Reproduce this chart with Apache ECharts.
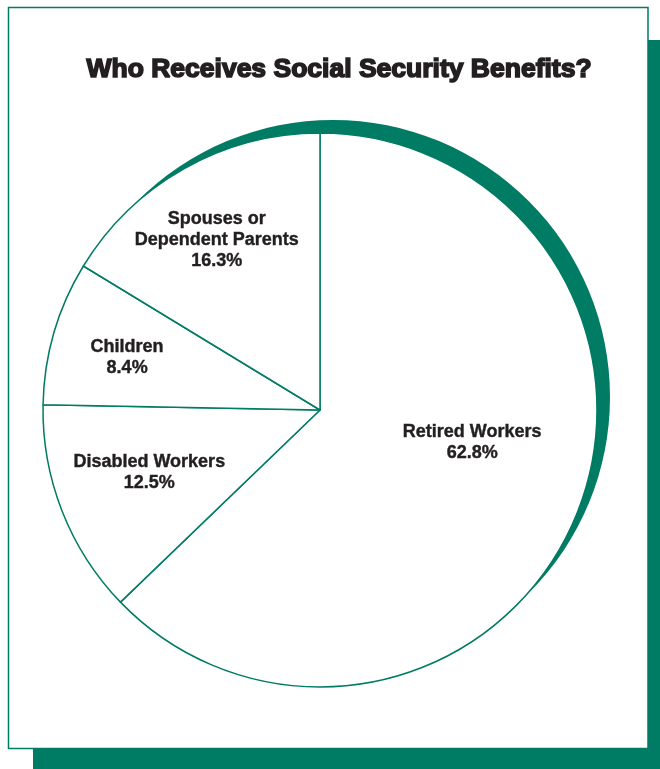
<!DOCTYPE html>
<html>
<head>
<meta charset="utf-8">
<script src="https://cdn.jsdelivr.net/npm/echarts@6/dist/echarts.min.js"></script>
<style>
  html, body { margin: 0; padding: 0; background: #fff; }
  #main { width: 660px; height: 769px; }
</style>
</head>
<body>
<div id="main"></div>
<script>
const categories = ['Retired Workers', 'Disabled Workers', 'Children', 'Spouses or\nDependent Parents'];
const shares = [62.8, 12.5, 8.4, 16.3];

const GREEN = '#007b64';
const INK = '#231f20';
// nudges from the default inside label spot
const labelNudge = [[22, -23], [-39, 11], [-57, -13], [-34, -47]];

const chart = echarts.init(document.getElementById('main'));

const option = {
    animation: false,
    title: {
        text: 'Who Receives Social Security Benefits?',
        left: 334,
        top: 51,
        textAlign: 'center',
        textStyle: {
            fontFamily: 'Liberation Sans',
            fontSize: 26.5,
            fontWeight: 'bold',
            color: INK,
            textBorderColor: INK,
            textBorderWidth: 1.6
        }
    },
    graphic: [{
            type: 'rect',
            z: -10,
            shape: { x: 33, y: 40, width: 640, height: 740 },
            style: { fill: GREEN }
        },
        {
            type: 'rect',
            z: -9,
            shape: { x: 8.5, y: 7.5, width: 639.5, height: 741 },
            style: { fill: '#fff', stroke: GREEN, lineWidth: 1.5 }
        }
    ],
    series: [{
            // offset green disc that shows as the rim
            type: 'pie',
            silent: true,
            z: 1,
            center: [333, 397],
            radius: 277,
            label: { show: false },
            labelLine: { show: false },
            itemStyle: { color: GREEN },
            data: [{ value: 1, name: 'rim' }]
        },
        {
            type: 'pie',
            z: 2,
            center: [320, 410],
            radius: 277,
            startAngle: 90,
            clockwise: true,
            avoidLabelOverlap: false,
            emphasis: { disabled: true },
            itemStyle: {
                color: '#fff',
                borderColor: GREEN,
                borderWidth: 1.5
            },
            label: {
                show: true,
                position: 'inside',
                formatter: p => p.name + '\n' + p.value.toFixed(1) + '%',
                fontFamily: 'Liberation Sans',
                fontSize: 18,
                fontWeight: 'bold',
                lineHeight: 21,
                color: INK,
                textBorderColor: INK,
                textBorderWidth: 0.4,
                align: 'center'
            },
            labelLine: { show: false },
            labelLayout: function(params) {
                const n = labelNudge[params.dataIndex];
                return { dx: n[0], dy: n[1] };
            },
            data: categories.map((c, i) => ({ name: c, value: shares[i] }))
        }
    ]
};

chart.setOption(option);
</script>
</body>
</html>
